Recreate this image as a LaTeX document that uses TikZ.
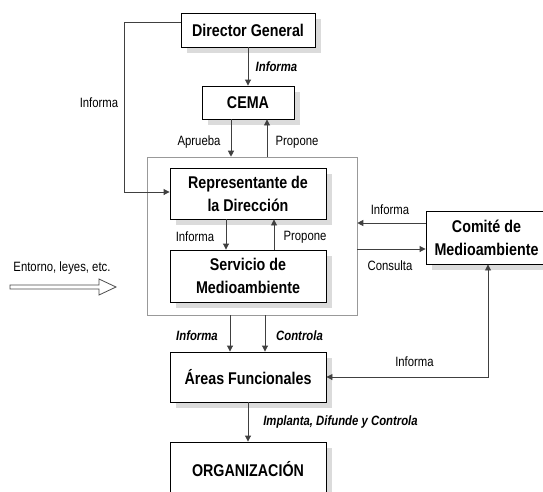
\documentclass[tikz,border=0pt]{standalone}
\usepackage{fontspec}
\setmainfont{Liberation Sans}[FakeStretch=0.84]
\usetikzlibrary{arrows.meta,shadows}
\begin{document}
\begin{tikzpicture}[x=1pt,y=-1pt,
  boxnode/.style={draw=black, line width=0.9pt, fill=white, inner sep=0pt, align=center,
    font=\fontsize{17}{23}\selectfont\bfseries,
    general shadow={fill=black!14, shadow xshift=6pt, shadow yshift=-6pt}},
  conn/.style={draw=black!75, line width=0.9pt, -{Triangle[length=6pt,width=6pt]}},
  lbl/.style={inner sep=0pt, font=\fontsize{13.5}{16}\selectfont},
  blbl/.style={inner sep=0pt, font=\fontsize{13.5}{16}\selectfont\bfseries\itshape}]
\useasboundingbox (0,0) rectangle (543,491);
\clip (0,0) rectangle (543,491);
\fill[white] (0,0) rectangle (543,491);

% outer grouping rectangle
\node[draw=black!40, line width=0.6pt, minimum width=210pt, minimum height=158pt, inner sep=0pt] (outer) at (252,236) {};

% boxes
\node[boxnode, minimum width=134pt, minimum height=34pt] (dir) at (248,30) {Director General};
\node[boxnode, minimum width=92pt, minimum height=33pt] (cema) at (248,102.5) {CEMA};
\node[boxnode, minimum width=156pt, minimum height=51pt] (rep) at (248,193.5) {Representante de\\la Dirección};
\node[boxnode, minimum width=156pt, minimum height=52pt] (serv) at (248,276) {Servicio de\\Medioambiente};
\node[boxnode, minimum width=121pt, minimum height=53pt] (com) at (486.5,237.5) {Comité de\\Medioambiente};
\node[boxnode, minimum width=156pt, minimum height=50pt] (areas) at (248,377) {Áreas Funcionales};
\node[boxnode, minimum width=156pt, minimum height=54pt] (org) at (248,469) {ORGANIZACIÓN};

% connectors
\draw[conn] (dir) -- (cema);
\coordinate (l1) at (124,22);
\coordinate (l2) at (124,192);
\draw[conn] ([yshift=8pt]dir.west) -- (l1) -- (l2) -- (rep.west |- l2);
\draw[conn] ([xshift=-17pt]cema.south) -- ([xshift=-17pt]cema.south |- outer.north);
\draw[conn] ([xshift=19pt]cema.south |- outer.north) -- ([xshift=19pt]cema.south);
\draw[conn] ([xshift=-22pt]rep.south) -- ([xshift=-22pt]rep.south |- serv.north);
\draw[conn] ([xshift=26pt]rep.south |- serv.north) -- ([xshift=26pt]rep.south);
\coordinate (ci) at ([yshift=14.5pt]com.west);
\coordinate (cc) at ([yshift=-11.5pt]com.west);
\draw[conn] (ci) -- (outer.east |- ci);
\draw[conn] (outer.east |- cc) -- (cc);
\draw[conn] ([xshift=-18pt]areas.north |- outer.south) -- ([xshift=-18pt]areas.north);
\draw[conn] ([xshift=17pt]areas.north |- outer.south) -- ([xshift=17pt]areas.north);
\draw[conn, {Triangle[length=6pt,width=6pt]}-{Triangle[length=6pt,width=6pt]}] ([xshift=1.5pt]com.south) |- (areas.east);
\draw[conn] (areas) -- (org);

% hollow input arrow
\draw[draw=black!70, fill=white, line width=0.8pt] (10,285) -- (99,285) -- (99,279) -- (116,287) -- (99,295) -- (99,289) -- (10,289) -- cycle;

% labels
\node[blbl] (t1) at (276.5,67) {Informa};
\node[lbl] (t2) at (99,103) {Informa};
\node[lbl] (t3) at (199,142) {Aprueba};
\node[lbl] (t4) at (297,142) {Propone};
\node[lbl] (t5) at (195,237) {Informa};
\node[lbl] (t6) at (305,237) {Propone};
\node[lbl] (t7) at (390,210) {Informa};
\node[lbl] (t8) at (390,266) {Consulta};
\node[lbl] (t9) at (62,268) {Entorno, leyes, etc.};
\node[blbl] (t10) at (197,336) {Informa};
\node[blbl] (t11) at (299.5,336) {Controla};
\node[lbl] (t12) at (414.5,362) {Informa};
\node[blbl] (t13) at (340.5,422) {Implanta, Difunde y Controla};
\end{tikzpicture}
\end{document}
